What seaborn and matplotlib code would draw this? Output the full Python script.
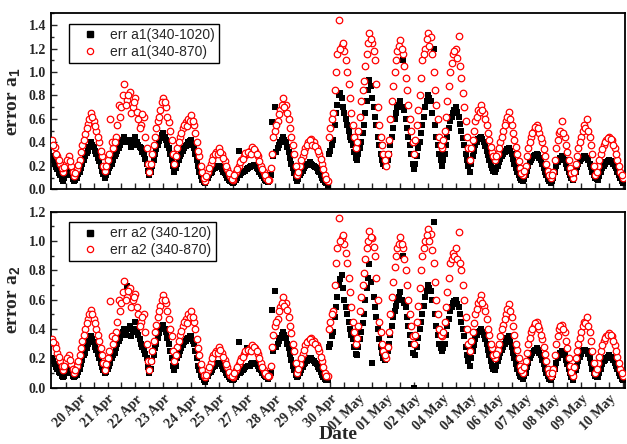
import numpy as np
import pandas as pd
import matplotlib
matplotlib.use("Agg")
import matplotlib.pyplot as plt
import seaborn as sns
from matplotlib.lines import Line2D
from matplotlib.ticker import FixedLocator, MultipleLocator

# ---------------- data ----------------
date_labels = ["20 Apr", "21 Apr", "22 Apr", "23 Apr", "24 Apr", "25 Apr", "27 Apr",
               "28 Apr", "29 Apr", "30 Apr", "01 May", "01 May", "02 May", "04 May",
               "04 May", "06 May", "07 May", "08 May", "09 May", "10 May"]

# readings on the sample grid
err_a1_340_870 = [
    0.42, 0.36, 0.28, 0.22, 0.15, 0.22, 0.28, 0.20, 0.11, 0.17,
    0.25, 0.38, 0.47, 0.56, 0.65, 0.58, 0.50, 0.40, 0.28, 0.16,
    0.25, 0.60, 0.35, 0.45, 0.72, 0.70, 0.90, 0.76, 0.83, 0.70,
    0.78, 0.60, 0.55, 0.62, 0.35, 0.15, 0.30, 0.45, 0.58, 0.68,
    0.78, 0.70, 0.57, 0.42, 0.22, 0.35, 0.45, 0.52, 0.57, 0.60,
    0.63, 0.55, 0.40, 0.28, 0.15, 0.07, 0.15, 0.22, 0.28, 0.32,
    0.35, 0.30, 0.24, 0.17, 0.11, 0.08, 0.15, 0.20, 0.25, 0.28,
    0.30, 0.33, 0.36, 0.33, 0.28, 0.20, 0.15, 0.10, 0.08, 0.30,
    0.50, 0.58, 0.68, 0.78, 0.72, 0.60, 0.45, 0.30, 0.12, 0.20,
    0.28, 0.35, 0.40, 0.43, 0.40, 0.35, 0.30, 0.22, 0.12, 0.07,
    0.52, 0.65, 1.00, 1.44, 1.22, 1.18, 1.00, 0.78, 0.55, 0.35,
    0.50, 0.75, 0.92, 1.15, 1.33, 1.25, 1.10, 0.70, 0.45, 0.30,
    0.20, 0.42, 0.75, 1.00, 1.18, 1.27, 1.15, 0.95, 0.72, 0.50,
    0.30, 0.55, 0.80, 1.10, 1.20, 1.33, 1.30, 1.00, 0.72, 0.45,
    0.35, 0.50, 0.75, 1.00, 1.15, 1.20, 1.31, 0.95, 0.70, 0.45,
    0.25, 0.42, 0.58, 0.68, 0.72, 0.65, 0.55, 0.42, 0.32, 0.25,
    0.30, 0.40, 0.50, 0.58, 0.66, 0.55, 0.42, 0.30, 0.18, 0.12,
    0.20, 0.35, 0.45, 0.50, 0.55, 0.48, 0.40, 0.28, 0.16, 0.10,
    0.15, 0.35, 0.48, 0.58, 0.45, 0.32, 0.18, 0.10, 0.22, 0.35,
    0.45, 0.55, 0.60, 0.45, 0.30, 0.12, 0.20, 0.30, 0.38, 0.42,
    0.45, 0.42, 0.35, 0.25, 0.15, 0.10]

err_a1_340_1020 = [
    0.28, 0.22, 0.17, 0.12, 0.07, 0.12, 0.17, 0.12, 0.07, 0.10,
    0.15, 0.22, 0.28, 0.33, 0.40, 0.36, 0.30, 0.24, 0.16, 0.10,
    0.15, 0.20, 0.25, 0.30, 0.35, 0.40, 0.45, 0.75, 0.40, 0.38,
    0.45, 0.38, 0.35, 0.30, 0.22, 0.12, 0.20, 0.30, 0.38, 0.44,
    0.48, 0.42, 0.35, 0.25, 0.15, 0.22, 0.28, 0.33, 0.37, 0.40,
    0.42, 0.35, 0.25, 0.15, 0.08, 0.05, 0.10, 0.14, 0.17, 0.19,
    0.20, 0.17, 0.14, 0.10, 0.07, 0.05, 0.08, 0.33, 0.14, 0.16,
    0.17, 0.19, 0.20, 0.20, 0.17, 0.13, 0.10, 0.07, 0.07, 0.57,
    0.70, 0.35, 0.40, 0.45, 0.40, 0.32, 0.22, 0.14, 0.07, 0.12,
    0.16, 0.20, 0.22, 0.22, 0.20, 0.18, 0.15, 0.10, 0.06, 0.03,
    0.33, 0.42, 0.65, 0.80, 0.78, 0.65, 0.55, 0.45, 0.38, 0.27,
    0.30, 0.40, 0.55, 0.75, 0.93, 0.78, 0.62, 0.45, 0.30, 0.22,
    0.20, 0.30, 0.45, 0.60, 0.70, 0.75, 1.10, 0.60, 0.45, 0.30,
    0.17, 0.28, 0.40, 0.55, 0.70, 0.80, 0.75, 1.20, 0.45, 0.30,
    0.20, 0.30, 0.45, 0.58, 0.65, 0.70, 0.62, 0.50, 0.38, 0.25,
    0.15, 0.28, 0.38, 0.43, 0.45, 0.40, 0.33, 0.25, 0.18, 0.15,
    0.20, 0.26, 0.30, 0.33, 0.35, 0.30, 0.22, 0.15, 0.10, 0.07,
    0.12, 0.20, 0.25, 0.28, 0.30, 0.27, 0.22, 0.15, 0.09, 0.05,
    0.10, 0.20, 0.25, 0.28, 0.25, 0.18, 0.12, 0.08, 0.15, 0.22,
    0.26, 0.28, 0.27, 0.22, 0.15, 0.10, 0.08, 0.15, 0.20, 0.23,
    0.25, 0.23, 0.20, 0.15, 0.10, 0.05]

err_a2_340_870 = [
    0.33, 0.30, 0.24, 0.18, 0.12, 0.18, 0.22, 0.16, 0.10, 0.15,
    0.22, 0.32, 0.40, 0.47, 0.53, 0.47, 0.40, 0.32, 0.22, 0.12,
    0.20, 0.59, 0.30, 0.38, 0.60, 0.58, 0.73, 0.62, 0.68, 0.60,
    0.64, 0.50, 0.45, 0.50, 0.30, 0.12, 0.25, 0.38, 0.48, 0.56,
    0.63, 0.58, 0.47, 0.35, 0.18, 0.28, 0.36, 0.42, 0.47, 0.50,
    0.52, 0.45, 0.33, 0.22, 0.12, 0.07, 0.12, 0.17, 0.22, 0.25,
    0.28, 0.24, 0.19, 0.14, 0.09, 0.07, 0.12, 0.16, 0.20, 0.23,
    0.25, 0.27, 0.29, 0.27, 0.23, 0.17, 0.12, 0.09, 0.08, 0.28,
    0.42, 0.47, 0.55, 0.62, 0.58, 0.48, 0.37, 0.25, 0.10, 0.16,
    0.23, 0.29, 0.32, 0.34, 0.32, 0.29, 0.25, 0.18, 0.10, 0.08,
    0.45, 0.52, 0.85, 1.16, 1.02, 0.98, 0.85, 0.65, 0.45, 0.30,
    0.42, 0.62, 0.78, 0.95, 1.07, 1.02, 0.90, 0.60, 0.38, 0.25,
    0.20, 0.38, 0.62, 0.82, 0.95, 1.03, 0.95, 0.80, 0.60, 0.42,
    0.30, 0.45, 0.68, 0.90, 1.00, 1.08, 1.05, 0.85, 0.60, 0.40,
    0.35, 0.45, 0.65, 0.85, 0.92, 0.95, 1.06, 0.80, 0.60, 0.40,
    0.25, 0.38, 0.50, 0.58, 0.63, 0.56, 0.47, 0.36, 0.27, 0.20,
    0.26, 0.35, 0.43, 0.50, 0.57, 0.48, 0.36, 0.26, 0.15, 0.10,
    0.18, 0.30, 0.38, 0.42, 0.45, 0.40, 0.33, 0.23, 0.13, 0.08,
    0.13, 0.30, 0.40, 0.43, 0.38, 0.27, 0.15, 0.08, 0.20, 0.30,
    0.38, 0.45, 0.48, 0.38, 0.25, 0.10, 0.17, 0.25, 0.32, 0.35,
    0.37, 0.35, 0.29, 0.21, 0.13, 0.08]

err_a2_340_120 = [
    0.20, 0.16, 0.13, 0.10, 0.07, 0.10, 0.13, 0.10, 0.07, 0.09,
    0.13, 0.19, 0.24, 0.30, 0.35, 0.31, 0.26, 0.20, 0.14, 0.10,
    0.13, 0.17, 0.22, 0.27, 0.32, 0.36, 0.40, 0.69, 0.42, 0.38,
    0.45, 0.36, 0.30, 0.26, 0.20, 0.10, 0.18, 0.27, 0.34, 0.40,
    0.43, 0.38, 0.30, 0.20, 0.12, 0.20, 0.25, 0.29, 0.32, 0.34,
    0.35, 0.30, 0.20, 0.12, 0.07, 0.04, 0.08, 0.11, 0.14, 0.16,
    0.17, 0.15, 0.12, 0.09, 0.06, 0.05, 0.07, 0.31, 0.11, 0.13,
    0.27, 0.15, 0.17, 0.17, 0.15, 0.12, 0.09, 0.07, 0.07, 0.53,
    0.66, 0.30, 0.34, 0.38, 0.34, 0.27, 0.19, 0.12, 0.07, 0.10,
    0.14, 0.17, 0.19, 0.20, 0.18, 0.16, 0.13, 0.09, 0.06, 0.05,
    0.30, 0.38, 0.55, 0.70, 0.77, 0.60, 0.50, 0.40, 0.33, 0.23,
    0.28, 0.38, 0.50, 0.68, 0.84, 0.17, 0.55, 0.40, 0.28, 0.20,
    0.20, 0.30, 0.42, 0.52, 0.60, 0.65, 0.90, 0.55, 0.42, 0.30,
    0.00, 0.28, 0.40, 0.50, 0.62, 0.70, 0.66, 1.13, 0.42, 0.30,
    0.25, 0.30, 0.42, 0.52, 0.58, 0.60, 0.55, 0.45, 0.35, 0.22,
    0.15, 0.25, 0.33, 0.38, 0.40, 0.36, 0.30, 0.22, 0.15, 0.12,
    0.18, 0.24, 0.28, 0.32, 0.35, 0.28, 0.20, 0.13, 0.08, 0.06,
    0.10, 0.17, 0.22, 0.25, 0.27, 0.24, 0.19, 0.13, 0.08, 0.05,
    0.09, 0.17, 0.22, 0.25, 0.22, 0.16, 0.10, 0.05, 0.12, 0.18,
    0.23, 0.26, 0.25, 0.20, 0.13, 0.08, 0.07, 0.13, 0.18, 0.20,
    0.22, 0.20, 0.17, 0.13, 0.08, 0.05]

# readings taken half-way between the grid samples
err_a1_340_870_mid = [
    0.38, 0.30, 0.25, 0.18, 0.19, 0.25, 0.24, 0.15, 0.14, 0.21,
    0.32, 0.42, 0.52, 0.60, 0.62, 0.54, 0.45, 0.33, 0.20, 0.20,
    0.30, 0.40, 0.40, 0.55, 0.62, 0.80, 0.72, 0.80, 0.65, 0.74,
    0.66, 0.52, 0.64, 0.45, 0.22, 0.22, 0.38, 0.52, 0.62, 0.74,
    0.74, 0.62, 0.50, 0.30, 0.28, 0.40, 0.48, 0.55, 0.54, 0.58,
    0.58, 0.48, 0.33, 0.20, 0.10, 0.11, 0.18, 0.25, 0.30, 0.30,
    0.32, 0.27, 0.20, 0.14, 0.09, 0.12, 0.17, 0.23, 0.26, 0.31,
    0.32, 0.30, 0.34, 0.30, 0.24, 0.17, 0.12, 0.08, 0.18, 0.45,
    0.55, 0.64, 0.72, 0.70, 0.65, 0.52, 0.38, 0.20, 0.15, 0.25,
    0.32, 0.38, 0.42, 0.38, 0.37, 0.33, 0.26, 0.17, 0.09, 0.45,
    0.60, 0.85, 1.15, 1.20, 1.25, 1.10, 0.90, 0.65, 0.45, 0.40,
    0.62, 0.85, 1.05, 1.25, 1.28, 1.18, 0.90, 0.55, 0.38, 0.25,
    0.30, 0.60, 0.88, 1.10, 1.22, 1.20, 1.05, 0.85, 0.60, 0.40,
    0.42, 0.68, 0.95, 1.15, 1.28, 1.22, 1.15, 0.85, 0.60, 0.38,
    0.42, 0.62, 0.88, 1.08, 1.18, 1.12, 1.05, 0.82, 0.58, 0.35,
    0.35, 0.50, 0.62, 0.66, 0.68, 0.60, 0.48, 0.36, 0.28, 0.28,
    0.35, 0.45, 0.55, 0.62, 0.60, 0.48, 0.36, 0.24, 0.14, 0.16,
    0.28, 0.40, 0.48, 0.53, 0.52, 0.44, 0.34, 0.22, 0.12, 0.12,
    0.25, 0.42, 0.50, 0.48, 0.38, 0.25, 0.14, 0.15, 0.28, 0.40,
    0.50, 0.52, 0.50, 0.38, 0.20, 0.15, 0.25, 0.34, 0.40, 0.44,
    0.43, 0.38, 0.30, 0.20, 0.12]

err_a1_340_1020_mid = [
    0.25, 0.19, 0.14, 0.09, 0.10, 0.15, 0.14, 0.09, 0.08, 0.13,
    0.18, 0.25, 0.31, 0.36, 0.38, 0.33, 0.27, 0.20, 0.13, 0.12,
    0.18, 0.22, 0.28, 0.33, 0.38, 0.42, 0.40, 0.42, 0.36, 0.42,
    0.40, 0.36, 0.32, 0.26, 0.16, 0.15, 0.25, 0.34, 0.41, 0.46,
    0.45, 0.38, 0.30, 0.20, 0.18, 0.25, 0.30, 0.35, 0.38, 0.41,
    0.38, 0.30, 0.20, 0.11, 0.06, 0.07, 0.12, 0.15, 0.18, 0.20,
    0.19, 0.15, 0.12, 0.08, 0.06, 0.06, 0.10, 0.12, 0.15, 0.16,
    0.18, 0.20, 0.21, 0.18, 0.15, 0.11, 0.08, 0.06, 0.12, 0.28,
    0.32, 0.38, 0.42, 0.42, 0.36, 0.27, 0.18, 0.10, 0.09, 0.14,
    0.18, 0.21, 0.23, 0.21, 0.19, 0.16, 0.12, 0.08, 0.05, 0.30,
    0.38, 0.55, 0.72, 0.82, 0.70, 0.60, 0.50, 0.42, 0.32, 0.25,
    0.35, 0.48, 0.65, 0.85, 0.88, 0.70, 0.55, 0.38, 0.25, 0.20,
    0.25, 0.38, 0.52, 0.65, 0.72, 0.70, 0.68, 0.52, 0.38, 0.22,
    0.22, 0.35, 0.48, 0.62, 0.75, 0.78, 0.65, 0.55, 0.38, 0.25,
    0.25, 0.38, 0.52, 0.62, 0.68, 0.66, 0.56, 0.44, 0.30, 0.20,
    0.22, 0.33, 0.40, 0.44, 0.43, 0.37, 0.29, 0.21, 0.16, 0.17,
    0.23, 0.28, 0.32, 0.34, 0.33, 0.26, 0.18, 0.12, 0.08, 0.09,
    0.16, 0.23, 0.27, 0.29, 0.29, 0.25, 0.18, 0.12, 0.07, 0.07,
    0.15, 0.23, 0.27, 0.27, 0.22, 0.15, 0.10, 0.11, 0.19, 0.24,
    0.27, 0.28, 0.25, 0.19, 0.12, 0.09, 0.11, 0.18, 0.22, 0.24,
    0.24, 0.22, 0.18, 0.12, 0.07]

err_a2_340_870_mid = [
    0.31, 0.27, 0.21, 0.15, 0.15, 0.20, 0.19, 0.13, 0.12, 0.18,
    0.27, 0.36, 0.44, 0.50, 0.50, 0.44, 0.36, 0.27, 0.17, 0.16,
    0.25, 0.35, 0.34, 0.45, 0.52, 0.65, 0.60, 0.66, 0.55, 0.62,
    0.55, 0.42, 0.48, 0.38, 0.18, 0.18, 0.32, 0.43, 0.52, 0.60,
    0.60, 0.52, 0.40, 0.25, 0.22, 0.32, 0.39, 0.45, 0.44, 0.48,
    0.48, 0.40, 0.27, 0.16, 0.09, 0.09, 0.14, 0.20, 0.24, 0.24,
    0.26, 0.21, 0.16, 0.11, 0.08, 0.10, 0.14, 0.18, 0.21, 0.25,
    0.26, 0.25, 0.28, 0.25, 0.20, 0.14, 0.10, 0.08, 0.15, 0.36,
    0.45, 0.52, 0.58, 0.56, 0.53, 0.42, 0.30, 0.17, 0.13, 0.20,
    0.26, 0.31, 0.33, 0.31, 0.30, 0.27, 0.21, 0.14, 0.08, 0.40,
    0.50, 0.70, 0.95, 1.00, 1.04, 0.92, 0.75, 0.55, 0.38, 0.34,
    0.52, 0.70, 0.88, 1.00, 1.03, 0.96, 0.75, 0.45, 0.30, 0.22,
    0.28, 0.50, 0.72, 0.90, 0.98, 0.98, 0.88, 0.70, 0.50, 0.35,
    0.36, 0.56, 0.80, 0.95, 1.04, 1.00, 0.94, 0.72, 0.50, 0.36,
    0.38, 0.55, 0.75, 0.88, 0.90, 0.88, 0.85, 0.70, 0.48, 0.30,
    0.32, 0.44, 0.54, 0.60, 0.58, 0.52, 0.40, 0.30, 0.22, 0.23,
    0.30, 0.40, 0.47, 0.54, 0.52, 0.42, 0.30, 0.20, 0.12, 0.14,
    0.24, 0.34, 0.40, 0.44, 0.42, 0.36, 0.28, 0.18, 0.10, 0.10,
    0.22, 0.35, 0.42, 0.40, 0.32, 0.20, 0.11, 0.14, 0.25, 0.34,
    0.42, 0.44, 0.42, 0.32, 0.17, 0.13, 0.21, 0.29, 0.34, 0.36,
    0.36, 0.32, 0.25, 0.17, 0.10]

err_a2_340_120_mid = [
    0.18, 0.14, 0.11, 0.08, 0.08, 0.12, 0.11, 0.08, 0.08, 0.11,
    0.16, 0.22, 0.27, 0.32, 0.33, 0.28, 0.23, 0.17, 0.12, 0.11,
    0.15, 0.20, 0.24, 0.30, 0.34, 0.38, 0.36, 0.40, 0.35, 0.40,
    0.40, 0.33, 0.28, 0.23, 0.14, 0.13, 0.22, 0.30, 0.37, 0.42,
    0.40, 0.34, 0.25, 0.15, 0.15, 0.22, 0.27, 0.31, 0.33, 0.35,
    0.32, 0.25, 0.15, 0.09, 0.05, 0.06, 0.10, 0.12, 0.15, 0.17,
    0.16, 0.13, 0.10, 0.07, 0.05, 0.06, 0.09, 0.10, 0.12, 0.14,
    0.15, 0.16, 0.17, 0.16, 0.13, 0.10, 0.08, 0.06, 0.10, 0.25,
    0.28, 0.32, 0.36, 0.36, 0.30, 0.23, 0.15, 0.09, 0.08, 0.12,
    0.16, 0.18, 0.20, 0.19, 0.17, 0.14, 0.11, 0.07, 0.05, 0.28,
    0.35, 0.48, 0.62, 0.74, 0.68, 0.55, 0.45, 0.36, 0.28, 0.22,
    0.33, 0.44, 0.60, 0.75, 0.72, 0.62, 0.48, 0.33, 0.24, 0.19,
    0.25, 0.36, 0.48, 0.56, 0.62, 0.60, 0.58, 0.48, 0.36, 0.24,
    0.22, 0.34, 0.45, 0.56, 0.66, 0.68, 0.60, 0.50, 0.36, 0.27,
    0.27, 0.36, 0.47, 0.55, 0.59, 0.57, 0.50, 0.40, 0.28, 0.18,
    0.20, 0.29, 0.36, 0.39, 0.38, 0.33, 0.26, 0.18, 0.13, 0.15,
    0.21, 0.26, 0.30, 0.34, 0.31, 0.24, 0.16, 0.10, 0.07, 0.08,
    0.14, 0.20, 0.24, 0.26, 0.26, 0.22, 0.16, 0.10, 0.06, 0.07,
    0.13, 0.20, 0.24, 0.24, 0.19, 0.13, 0.07, 0.08, 0.15, 0.21,
    0.25, 0.26, 0.23, 0.17, 0.10, 0.07, 0.10, 0.16, 0.19, 0.21,
    0.21, 0.19, 0.15, 0.10, 0.06]

# ---------------- styling ----------------
sns.set_theme(style="ticks")
plt.rcParams["font.family"] = ["Liberation Serif", "DejaVu Serif"]
plt.rcParams["mathtext.fontset"] = "custom"
plt.rcParams["mathtext.rm"] = "Liberation Sans:bold"
plt.rcParams["mathtext.bf"] = "Liberation Sans:bold"

fig = plt.figure(figsize=(6.27, 4.44), dpi=100)
ax1 = fig.add_axes([0.0813, 0.5736, 0.9155, 0.3964])
ax2 = fig.add_axes([0.0813, 0.1268, 0.9155, 0.3964])


def make_df(grid_vals, mid_vals):
    a = pd.DataFrame({"sample": np.arange(len(grid_vals), dtype=float), "value": grid_vals})
    b = pd.DataFrame({"sample": np.arange(len(mid_vals)) + 0.5, "value": mid_vals})
    return pd.concat([a, b], ignore_index=True)


panels = [
    (ax1, make_df(err_a1_340_1020, err_a1_340_1020_mid), make_df(err_a1_340_870, err_a1_340_870_mid),
     "err a1(340-1020)", "err a1(340-870)", r"error a$_{\mathrm{1}}$", 1.5, 1.4),
    (ax2, make_df(err_a2_340_120, err_a2_340_120_mid), make_df(err_a2_340_870, err_a2_340_870_mid),
     "err a2 (340-120)", "err a2 (340-870)", r"error a$_{\mathrm{2}}$", 1.2, 1.2),
]

major_pos = [10 + 10 * i for i in range(len(date_labels))]
minor_pos = [5 + 10 * i for i in range(len(date_labels) + 1)]

for ax, blk, red, lb, lr, ylab, ymax, ytop in panels:
    sns.scatterplot(data=blk, x="sample", y="value", ax=ax, marker="s",
                    color="black", s=17, linewidth=0, legend=False, zorder=2)
    sns.scatterplot(data=red, x="sample", y="value", ax=ax, marker="o",
                    color="white", edgecolor="red", s=22, linewidth=0.9,
                    legend=False, zorder=3)
    ax.set_xlim(-0.3, 205.7)
    ax.set_ylim(0, ymax)
    ax.set_yticks(np.round(np.arange(0, ytop + 0.001, 0.2), 1))
    ax.yaxis.set_minor_locator(MultipleLocator(0.1))
    ax.xaxis.set_major_locator(FixedLocator(major_pos))
    ax.xaxis.set_minor_locator(FixedLocator(minor_pos))
    ax.tick_params(axis="both", which="major", direction="in", length=4.5, width=1.0)
    ax.tick_params(axis="both", which="minor", direction="in", length=4.5, width=1.0)
    ax.tick_params(axis="y", which="minor", length=2.5)
    for sp in ax.spines.values():
        sp.set_linewidth(1.3)
        sp.set_color("black")
    ax.set_ylabel(ylab, fontsize=14, fontweight="bold", labelpad=4)
    for t in ax.get_yticklabels():
        t.set_fontweight("bold")
        t.set_fontsize(10)
    handles = [
        Line2D([], [], marker="s", color="black", linestyle="none", markersize=4),
        Line2D([], [], marker="o", markerfacecolor="white", markeredgecolor="red",
               linestyle="none", markersize=4.5, markeredgewidth=0.9),
    ]
    leg = ax.legend(handles, [lb, lr], loc="upper left", bbox_to_anchor=(0.031, 0.94),
                    frameon=True, fancybox=False, edgecolor="black", framealpha=1,
                    prop={"family": "Liberation Sans", "size": 10},
                    handletextpad=0.3, borderpad=0.3, labelspacing=0.2,
                    handlelength=2.4, borderaxespad=0)
    leg.get_frame().set_linewidth(1.0)
    ax.set_xlabel("")

ax1.set_xticklabels([])
ax2.set_xticklabels(date_labels, rotation=45, ha="right", rotation_mode="anchor",
                    fontsize=10, fontweight="bold")
ax2.set_xlabel("Date", fontsize=14, fontweight="bold")
ax2.xaxis.set_label_coords(0.5, -0.215)

fig.savefig("out.png", dpi=100)
